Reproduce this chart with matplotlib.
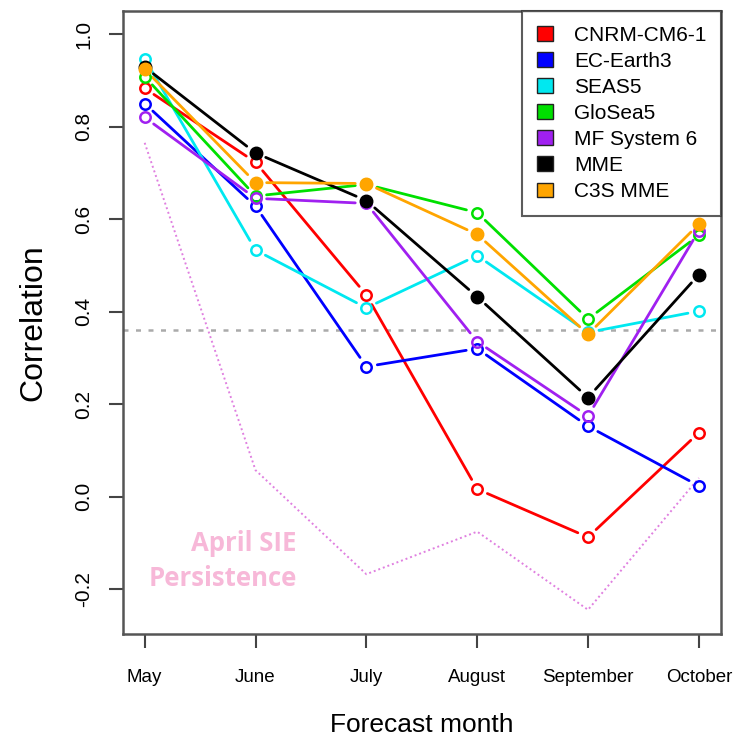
#!/usr/bin/env python3
import matplotlib
matplotlib.use('Agg')
import matplotlib.pyplot as plt
import numpy as np
from matplotlib.patches import Patch

months = ['May', 'June', 'July', 'August', 'September', 'October']

# correlation per forecast month
cnrm   = [0.883, 0.723, 0.436, 0.016, -0.088, 0.138]
ecearth = [0.850, 0.628, 0.281, 0.320, 0.152, 0.023]
seas5  = [0.947, 0.533, 0.408, 0.521, 0.355, 0.401]
glosea = [0.908, 0.650, 0.675, 0.614, 0.384, 0.565]
mfsys6 = [0.820, 0.645, 0.634, 0.335, 0.174, 0.575]
mme    = [0.929, 0.743, 0.640, 0.432, 0.214, 0.480]
c3smme = [0.924, 0.679, 0.677, 0.567, 0.351, 0.589]
persistence = [0.765, 0.057, -0.168, -0.076, -0.245, 0.040]
signif_level = 0.36

names = ['CNRM-CM6-1', 'EC-Earth3', 'SEAS5', 'GloSea5', 'MF System 6', 'MME', 'C3S MME']
series = [cnrm, ecearth, seas5, glosea, mfsys6, mme, c3smme]
colors = ['#FF0000', '#0000FF', '#00E8F0', '#00E000', '#A020F0', '#000000', '#FFA500']
filled = [False, False, False, False, False, True, True]

plt.rcParams['font.family'] = ['Liberation Sans', 'DejaVu Sans']

fig = plt.figure(figsize=(7.38, 7.37), dpi=100)
ax = fig.add_axes([0.166, 0.14, 0.811, 0.845])

x = np.arange(len(months))

# significance line
ax.axhline(signif_level, color='#AAAAAA', lw=1.8, linestyle=(0, (2, 3)), zorder=1)

# persistence (dotted)
ax.plot(x, persistence, color='#E080E0', lw=1.4, linestyle=(0, (1, 1.5)), zorder=2)

# model lines, type="b" style: segments with gaps around the points
for s, c, f in zip(series, colors, filled):
    for i in range(len(x) - 1):
        ax.annotate('', xy=(x[i+1], s[i+1]), xytext=(x[i], s[i]),
                    arrowprops=dict(arrowstyle='-', color=c, lw=2.0,
                                    shrinkA=8, shrinkB=8), zorder=3)
    if f:
        ax.plot(x, s, 'o', color=c, markersize=9, linestyle='none', zorder=4)
    else:
        ax.plot(x, s, 'o', markerfacecolor='none', markeredgecolor=c,
                markeredgewidth=1.8, markersize=7.5, linestyle='none', zorder=4)

ax.text(1.37, -0.139, 'April SIE\nPersistence', color='#F7B8D8',
        fontsize=18.5, fontweight='bold', family=['Open Sans', 'DejaVu Sans'],
        ha='right', va='center', multialignment='right', linespacing=1.4)

ax.set_xlim(-0.2, 5.2)
ax.set_ylim(-0.297, 1.05)
ax.set_xticks(x)
ax.set_xticklabels(months, fontsize=13.5)
ax.set_yticks([-0.2, 0.0, 0.2, 0.4, 0.6, 0.8, 1.0])
ax.set_yticklabels(['-0.2', '0.0', '0.2', '0.4', '0.6', '0.8', '1.0'],
                   fontsize=15, rotation=90, va='center')
ax.tick_params(axis='x', length=10, width=1.5, color='#444444', pad=15)
ax.tick_params(axis='y', length=10, width=1.5, color='#444444', pad=11)
for sp in ax.spines.values():
    sp.set_color('#555555')
    sp.set_linewidth(1.8)

ax.set_xlabel('Forecast month', fontsize=19, labelpad=20)
ax.set_ylabel('Correlation', fontsize=23, labelpad=19)

handles = [Patch(facecolor=c, edgecolor='#222222', label=n) for n, c in zip(names, colors)]
leg = ax.legend(handles=handles, loc='upper right', fontsize=15, frameon=True,
                fancybox=False, borderaxespad=0, handlelength=0.8, handleheight=0.7,
                handletextpad=1.0, labelspacing=0.34, borderpad=0.7)
leg.get_frame().set_edgecolor('#333333')
leg.get_frame().set_linewidth(1.5)

plt.savefig('out.png', dpi=100)
